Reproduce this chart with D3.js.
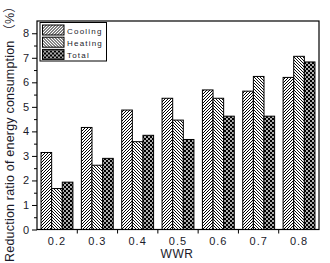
<!DOCTYPE html>
<html>
<meta charset="utf-8">
<head>
<script src="https://d3js.org/d3.v7.min.js"></script>
<style>
body { margin: 0; background: #fff; }
text { font-family: "Liberation Sans", Arial, "Noto Sans CJK SC", sans-serif; fill: #1a1a2a; }
</style>
</head>
<body>
<script>
// data
var wwr = ["0.2", "0.3", "0.4", "0.5", "0.6", "0.7", "0.8"];
var series = ["Cooling", "Heating", "Total"];
var cooling = [3.14, 4.16, 4.87, 5.35, 5.69, 5.64, 6.2];
var heating = [1.67, 2.62, 3.58, 4.46, 5.35, 6.24, 7.06];
var total = [1.93, 2.9, 3.84, 3.67, 4.62, 4.62, 6.83];
var yTicks = [0, 1, 2, 3, 4, 5, 6, 7, 8];

var values = [cooling, heating, total];

var W = 330, H = 263;
// note: "top" is taken by window.top, so use a margin object
var plot = {left: 37, right: 319, top: 21, bottom: 229.5};

var svg = d3.select("body").append("svg")
    .attr("width", W)
    .attr("height", H);

// fill patterns
var defs = svg.append("defs");
var p1 = defs.append("pattern").attr("id", "pat0")
    .attr("patternUnits", "userSpaceOnUse").attr("width", 3).attr("height", 3);
p1.append("rect").attr("width", 3).attr("height", 3).attr("fill", "#fff");
p1.append("path").attr("d", "M-1,1 L1,-1 M0,3 L3,0 M2,4 L4,2")
    .attr("stroke", "#000").attr("stroke-width", 1);

var p2 = defs.append("pattern").attr("id", "pat1")
    .attr("patternUnits", "userSpaceOnUse").attr("width", 3).attr("height", 3);
p2.append("rect").attr("width", 3).attr("height", 3).attr("fill", "#fff");
p2.append("path").attr("d", "M-1,2 L1,4 M0,0 L3,3 M2,-1 L4,1")
    .attr("stroke", "#000").attr("stroke-width", 0.95);

var p3 = defs.append("pattern").attr("id", "pat2")
    .attr("patternUnits", "userSpaceOnUse").attr("width", 4).attr("height", 4);
p3.append("rect").attr("width", 4).attr("height", 4).attr("fill", "#000");
p3.append("circle").attr("cx", 1).attr("cy", 1).attr("r", 0.9).attr("fill", "#fff");
p3.append("circle").attr("cx", 3).attr("cy", 3).attr("r", 0.9).attr("fill", "#fff");

var x = d3.scaleBand().domain(wwr).range([plot.left, plot.right]).paddingInner(0.21).paddingOuter(0.1);
var xGroup = d3.scaleBand().domain(wwr).range([plot.left, plot.right]).padding(0);
var xs = d3.scaleBand().domain(series).range([0, x.bandwidth()]);
var y = d3.scaleLinear().domain([0, 8.5]).range([plot.bottom, plot.top]);

// bars
series.forEach(function(s, i) {
  svg.append("g").selectAll("rect")
    .data(values[i])
    .enter().append("rect")
      .attr("x", function(d, j) { return x(wwr[j]) + xs(s); })
      .attr("y", function(d) { return y(d); })
      .attr("width", xs.bandwidth())
      .attr("height", function(d) { return y(0) - y(d); })
      .attr("fill", "url(#pat" + i + ")")
      .attr("stroke", "#000")
      .attr("stroke-width", 1);
});

// frame
svg.append("rect")
    .attr("x", plot.left).attr("y", plot.top)
    .attr("width", plot.right - plot.left).attr("height", plot.bottom - plot.top)
    .attr("fill", "none").attr("stroke", "#000").attr("stroke-width", 1.2);

// y axis
var yAxis = svg.append("g")
    .attr("transform", "translate(" + plot.left + ",0)")
    .call(d3.axisLeft(y).tickValues(yTicks).tickSize(5).tickPadding(3).tickFormat(d3.format("d")));
yAxis.select(".domain").remove();
yAxis.selectAll("line").attr("stroke", "#000");
yAxis.selectAll("text").style("font-size", "11px").attr("fill", "#1a1a2a");
svg.append("g")
    .attr("transform", "translate(" + plot.left + ",0)")
    .call(d3.axisLeft(y).tickValues(d3.range(0.5, 8.5, 1)).tickSize(3).tickFormat(""))
    .call(function(g) { g.select(".domain").remove(); g.selectAll("line").attr("stroke", "#000"); });

// x axis: ticks between groups, labels centred
var xAxis = svg.append("g")
    .attr("transform", "translate(0," + plot.bottom + ")");
xAxis.selectAll("line")
    .data(wwr.slice(1))
    .enter().append("line")
      .attr("x1", function(d) { return xGroup(d); })
      .attr("x2", function(d) { return xGroup(d); })
      .attr("y1", 0).attr("y2", 4)
      .attr("stroke", "#000");
xAxis.selectAll("text")
    .data(wwr)
    .enter().append("text")
      .attr("x", function(d) { return x(d) + x.bandwidth() / 2; })
      .attr("y", 15)
      .attr("text-anchor", "middle")
      .style("font-size", "11px")
      .style("letter-spacing", "1px")
      .text(function(d) { return d; });

// axis titles
svg.append("text")
    .attr("x", 177).attr("y", 258)
    .attr("text-anchor", "middle")
    .style("font-size", "12px")
    .style("letter-spacing", "0.5px")
    .text("WWR");

svg.append("text")
    .attr("transform", "translate(14," + 131 + ") rotate(-90)")
    .attr("text-anchor", "middle")
    .style("font-size", "12.5px")
    .style("letter-spacing", "0.2px")
    .text("Reduction ratio of energy consumption （%）");

// legend
var lg = svg.append("g").attr("transform", "translate(40,22.5)");
lg.append("rect")
    .attr("width", 66.5).attr("height", 38.5)
    .attr("fill", "#fff").attr("stroke", "#000").attr("stroke-width", 1);
series.forEach(function(s, i) {
  lg.append("rect")
      .attr("x", 2.5).attr("y", 2.5 + i * 12.2)
      .attr("width", 21.5).attr("height", 10)
      .attr("fill", "url(#pat" + i + ")")
      .attr("stroke", "#000").attr("stroke-width", 1);
  lg.append("text")
      .attr("x", 27).attr("y", 11 + i * 12.2)
      .style("font-size", "8px")
      .style("letter-spacing", "1.2px")
      .text(s);
});
</script>
</body>
</html>
